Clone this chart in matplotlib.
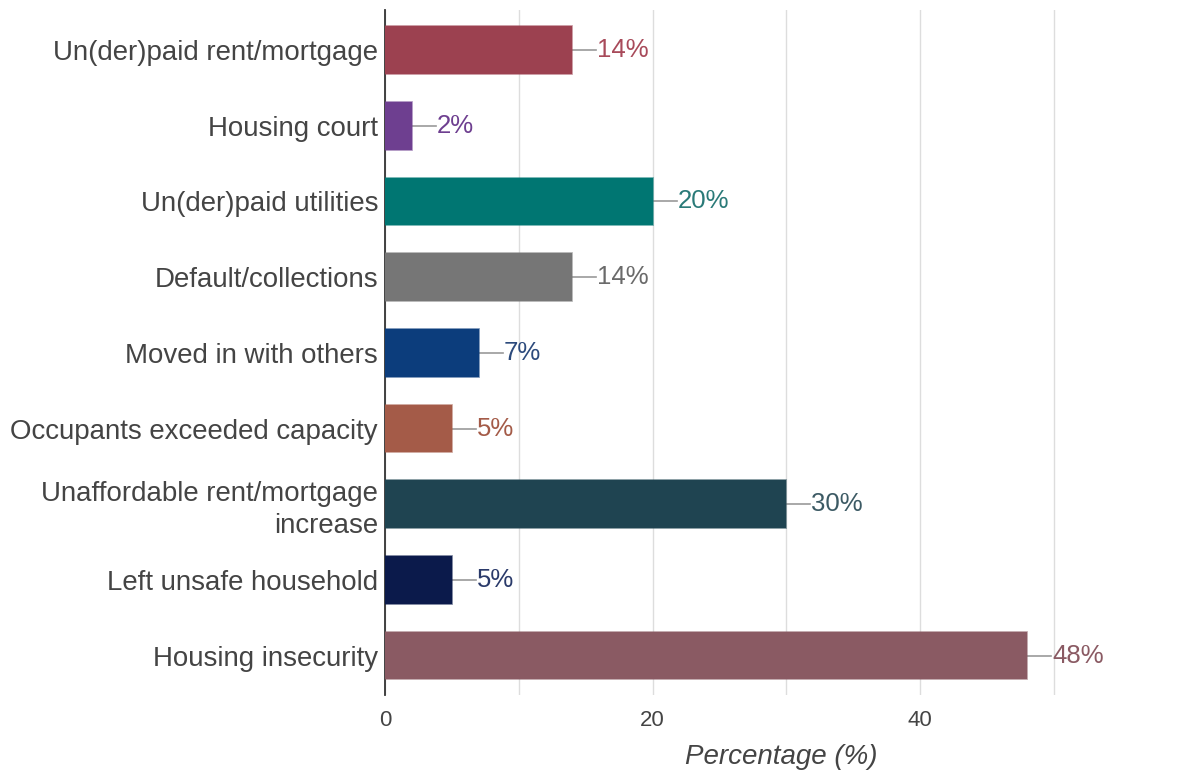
import matplotlib
matplotlib.use("Agg")
import matplotlib.pyplot as plt

plt.rcParams['font.family'] = ['Liberation Sans', 'DejaVu Sans']

categories = ["Un(der)paid rent/mortgage", "Housing court", "Un(der)paid utilities",
              "Default/collections", "Moved in with others", "Occupants exceeded capacity",
              "Unaffordable rent/mortgage\nincrease", "Left unsafe household", "Housing insecurity"]
values = [14, 2, 20, 14, 7, 5, 30, 5, 48]
colors = ["#9c4150", "#6e3f90", "#007672", "#767676", "#0c3d7c", "#a45b48",
          "#1f4451", "#0b1a4b", "#8a5a63"]
text_colors = ["#a84a5a", "#6e3f90", "#2a7a78", "#6a6a6a", "#2c4a7c", "#a45b48",
               "#3c5a64", "#2a3a6a", "#8a5a63"]
grid_ticks = [0, 10, 20, 30, 40, 50]
tick_labels = ["0", "", "20", "", "40", ""]

fig = plt.figure(figsize=(11.83, 7.71), dpi=100)
ax = fig.add_axes([385/1183, 76/771, (1177-385)/1183, (695-10)/771])

y = list(range(len(categories)))
ax.barh(y, values, height=0.63, color=colors, edgecolor=[c + "99" for c in colors],
        linewidth=1.2, zorder=3)
ax.set_ylim(len(categories) - 0.48, -0.53)
ax.set_xlim(0, 59.2)

for i, (v, tc) in enumerate(zip(values, text_colors)):
    ax.plot([v, v + 1.8], [i, i], color="#999999", lw=1.2, zorder=2)
    ax.text(v + 1.85, i, f"{v}%", va="center", ha="left", fontsize=18.5, color=tc)

ax.set_xticks(grid_ticks)
ax.set_xticklabels(tick_labels)
ax.set_yticks(y)
ax.set_yticklabels(categories, fontsize=19.9, color="#444444", linespacing=1.3)
ax.tick_params(axis='y', length=0, pad=5)
ax.tick_params(axis='x', length=0, pad=11, labelsize=16, labelcolor="#444444")
ax.xaxis.grid(True, color="#dddddd", lw=1, zorder=0)
for s in ["top", "right", "bottom"]:
    ax.spines[s].set_visible(False)
ax.spines["left"].set_color("#333333")
ax.spines["left"].set_linewidth(1.3)
ax.set_xlabel("Percentage (%)", fontsize=20, style="italic", color="#444444", labelpad=9)

fig.savefig("out.png", dpi=100)
